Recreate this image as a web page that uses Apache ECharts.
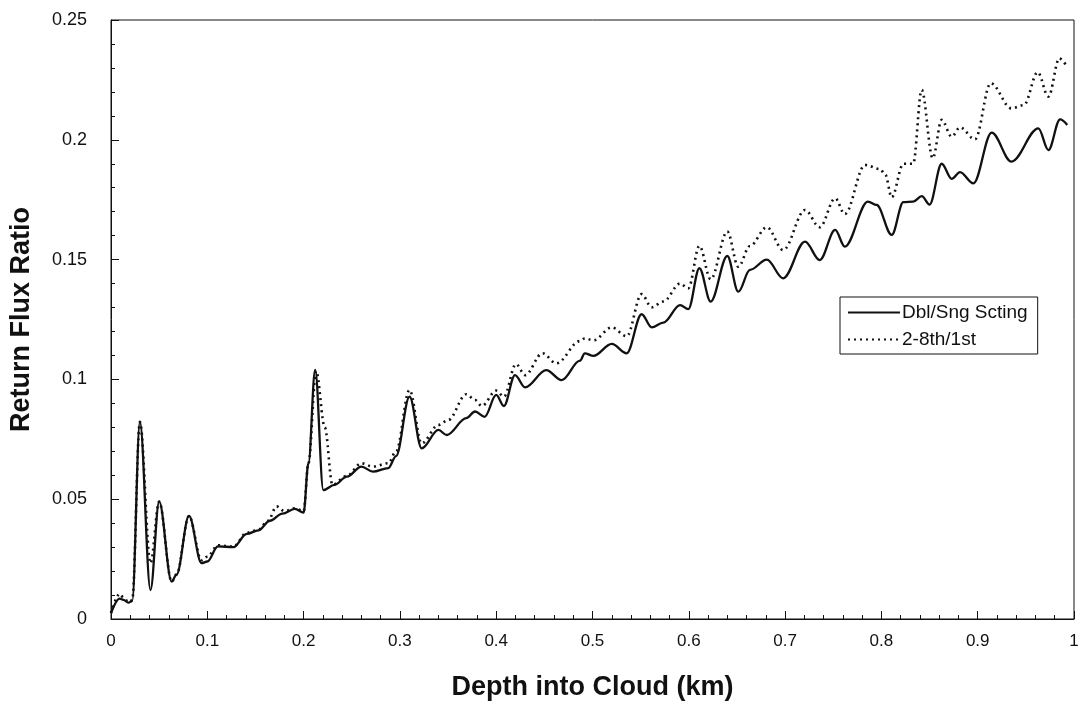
<!DOCTYPE html>
<html>
<head>
<meta charset="utf-8">
<title>Return Flux Ratio vs Depth into Cloud</title>
<script src="https://cdn.jsdelivr.net/npm/echarts@6/dist/echarts.min.js"></script>
<style>
  html, body { margin: 0; padding: 0; background: #fff; }
  #chart { width: 1083px; height: 706px; }
</style>
</head>
<body>
<div id="chart"></div>
<script>
// Double / single scattering ratio (solid curve)
const dblDepth = [
  0.000, 0.009, 0.013, 0.018, 0.022, 0.030, 0.041, 0.050,
  0.063, 0.068, 0.081, 0.094, 0.100, 0.111, 0.127, 0.141, 0.153,
  0.165, 0.178, 0.191, 0.200, 0.205, 0.212, 0.2205, 0.232, 0.245, 0.260,
  0.272, 0.288, 0.296, 0.310, 0.3226, 0.340, 0.3486, 0.369, 0.378, 0.388,
  0.400, 0.408, 0.4195, 0.430, 0.452, 0.468, 0.487, 0.492, 0.501, 0.520,
  0.5355, 0.551, 0.5615, 0.5735, 0.591, 0.5995, 0.611, 0.6227, 0.640, 0.6514,
  0.6635, 0.681, 0.698, 0.7207, 0.736, 0.752, 0.762, 0.786, 0.795, 0.8107,
  0.8228, 0.833, 0.842, 0.850, 0.8626, 0.873, 0.8816, 0.8955, 0.9145, 0.935,
  0.963, 0.9734, 0.9855, 0.993
];
const dblRatio = [
  0.0025, 0.0085, 0.0080, 0.0068, 0.0075, 0.0823, 0.0121, 0.0490,
  0.0156, 0.0185, 0.0430, 0.0233, 0.0240, 0.0303, 0.0300, 0.0355, 0.0370,
  0.0410, 0.0440, 0.0460, 0.0444, 0.0650, 0.1040, 0.0538, 0.0560, 0.0594, 0.0636,
  0.0615, 0.0630, 0.0680, 0.0928, 0.0712, 0.0789, 0.0768, 0.0838, 0.0866, 0.0844,
  0.0935, 0.0889, 0.1018, 0.0967, 0.1039, 0.0997, 0.1078, 0.1109, 0.1098, 0.1148,
  0.1109, 0.1272, 0.1217, 0.1237, 0.1310, 0.1293, 0.1464, 0.1325, 0.1515, 0.1366,
  0.1457, 0.1500, 0.1422, 0.1575, 0.1498, 0.1624, 0.1554, 0.1742, 0.1728, 0.1603,
  0.1740, 0.1742, 0.1765, 0.1730, 0.1900, 0.1837, 0.1865, 0.1818, 0.2030, 0.1909,
  0.2048, 0.1957, 0.2085, 0.2062
];

// Orders 2-8 over first order (dotted curve)
const multiDepth = [
  0.000, 0.009, 0.013, 0.018, 0.022, 0.030, 0.041, 0.050,
  0.063, 0.068, 0.081, 0.094, 0.100, 0.111, 0.127, 0.141, 0.153,
  0.163, 0.172, 0.180, 0.191, 0.200, 0.205, 0.213, 0.222, 0.230, 0.245,
  0.260, 0.272, 0.288, 0.296, 0.310, 0.3226, 0.340, 0.350, 0.369, 0.378,
  0.385, 0.400, 0.408, 0.4205, 0.430, 0.448, 0.4625, 0.487, 0.492, 0.501,
  0.520, 0.5355, 0.551, 0.5615, 0.5735, 0.591, 0.5995, 0.611, 0.6227, 0.640,
  0.6514, 0.6635, 0.681, 0.698, 0.7207, 0.736, 0.752, 0.762, 0.783, 0.7985,
  0.804, 0.8107, 0.8228, 0.833, 0.8418, 0.8533, 0.8626, 0.873, 0.8816, 0.8972,
  0.9135, 0.935, 0.948, 0.9623, 0.9734, 0.9848, 0.993
];
const multiRatio = [
  0.0025, 0.0105, 0.0090, 0.0070, 0.0078, 0.0823, 0.0233, 0.0490,
  0.0156, 0.0185, 0.0430, 0.0245, 0.0260, 0.0308, 0.0302, 0.0360, 0.0372,
  0.0410, 0.0470, 0.0450, 0.0462, 0.0450, 0.0650, 0.1035, 0.0800, 0.0560, 0.0598,
  0.0650, 0.0636, 0.0650, 0.0700, 0.0956, 0.0733, 0.0810, 0.0830, 0.0938, 0.0914,
  0.0889, 0.0953, 0.0928, 0.1064, 0.1018, 0.1109, 0.1067, 0.1160, 0.1171, 0.1163,
  0.1217, 0.1180, 0.1356, 0.1301, 0.1325, 0.1400, 0.1380, 0.1557, 0.1418, 0.1617,
  0.1470, 0.1557, 0.1635, 0.1540, 0.1707, 0.1635, 0.1756, 0.1690, 0.1895, 0.1878,
  0.1855, 0.1760, 0.1900, 0.1900, 0.2208, 0.1923, 0.2083, 0.2013, 0.2052, 0.2002,
  0.2236, 0.2131, 0.2145, 0.2282, 0.2180, 0.2340, 0.2303
];

const seriesNames = ['Dbl/Sng Scting', '2-8th/1st'];
const xTitle = 'Depth into Cloud (km)';
const yTitle = 'Return Flux Ratio';

const zip = (xs, ys) => xs.map((x, i) => [x, ys[i]]);

const ink = '#111';
const fontFamily = 'Liberation Sans, Arial, Helvetica, sans-serif';

const chart = echarts.init(document.getElementById('chart'), null, { renderer: 'canvas' });

chart.setOption({
  animation: false,
  backgroundColor: '#fff',
  grid: {
    left: 111, right: 9, top: 20, bottom: 87,
    show: true, borderColor: ink, borderWidth: 1, backgroundColor: 'transparent'
  },
  legend: {
    orient: 'vertical',
    left: 840, top: 297,
    itemWidth: 52, itemHeight: 12, itemGap: 8,
    padding: [6, 10, 5, 7],
    borderColor: ink, borderWidth: 1, borderRadius: 0,
    backgroundColor: '#fff',
    // line samples only, no marker dot
    itemStyle: { opacity: 0 },
    textStyle: { fontFamily, fontSize: 19, color: ink, padding: [0, 0, 0, -3] },
    data: seriesNames
  },
  xAxis: {
    type: 'value', min: 0, max: 1, interval: 0.1,
    name: xTitle, nameLocation: 'middle', nameGap: 55,
    nameTextStyle: { fontFamily, fontSize: 27, fontWeight: 'bold', color: ink },
    axisLine: { show: true, onZero: false, lineStyle: { color: ink, width: 1 } },
    axisTick: { show: true, inside: true, length: 8, lineStyle: { color: ink } },
    minorTick: { show: true, splitNumber: 5, length: 4, lineStyle: { color: ink } },
    splitLine: { show: false },
    axisLabel: {
      fontFamily, fontSize: 17, color: ink, margin: 14,
      formatter: v => String(+v.toFixed(2))
    }
  },
  yAxis: {
    type: 'value', min: 0, max: 0.25, interval: 0.05,
    name: yTitle, nameLocation: 'middle', nameGap: 76,
    nameTextStyle: { fontFamily, fontSize: 27, fontWeight: 'bold', color: ink },
    axisLine: { show: true, onZero: false, lineStyle: { color: ink, width: 1 } },
    axisTick: { show: true, inside: true, length: 8, lineStyle: { color: ink } },
    minorTick: { show: true, splitNumber: 5, length: 4, lineStyle: { color: ink } },
    splitLine: { show: false },
    axisLabel: {
      fontFamily, fontSize: 18, color: ink, margin: 24,
      formatter: v => String(+v.toFixed(2))
    }
  },
  series: [
    {
      name: seriesNames[0], type: 'line',
      data: zip(dblDepth, dblRatio),
      showSymbol: false, symbol: 'none',
      smooth: 0.35, smoothMonotone: 'x',
      lineStyle: { color: ink, width: 2.3, type: 'solid' },
      itemStyle: { color: ink },
      z: 3
    },
    {
      name: seriesNames[1], type: 'line',
      data: zip(multiDepth, multiRatio),
      showSymbol: false, symbol: 'none',
      smooth: 0.35, smoothMonotone: 'x',
      lineStyle: { color: ink, width: 2.6, type: [2, 4] },
      itemStyle: { color: ink },
      z: 2
    }
  ]
});
</script>
</body>
</html>
